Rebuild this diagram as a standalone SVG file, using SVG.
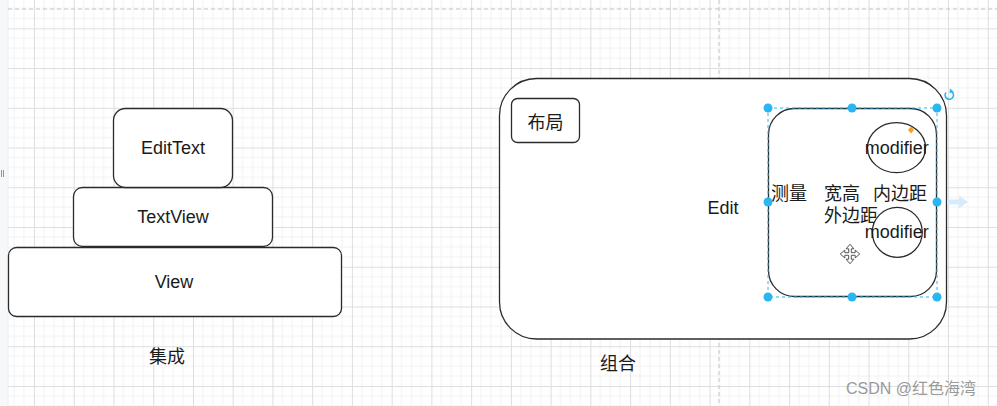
<svg xmlns="http://www.w3.org/2000/svg" width="997" height="406" viewBox="0 0 997 406">
<style>
.shape{fill:#ffffff;stroke:#2b2b2b;stroke-width:1.3}
.lbl{font-family:"Liberation Sans","Noto Sans CJK SC",sans-serif;font-size:18px;fill:#1a1a1a;text-anchor:middle;dominant-baseline:central}
.cjk{font-family:"Noto Sans CJK SC","Liberation Sans",sans-serif;font-size:18px;fill:#1a1a1a;dominant-baseline:central}
.sel{fill:none;stroke:#29b6f2;stroke-width:1;stroke-dasharray:3 3}
.handle{fill:#29b6f2}
.pb{stroke:#c4c4c4;stroke-width:1;stroke-dasharray:4 3;fill:none}
</style>
<defs>
<pattern id="grid" patternUnits="userSpaceOnUse" x="34" y="28.3" width="39.74" height="39.74">
<path d="M9.935 0V39.74M19.87 0V39.74M29.8 0V39.74M0 9.935H39.74M0 19.87H39.74M0 29.8H39.74" stroke="#f2f2f2" stroke-width="1" fill="none"/>
<path d="M0.5 0V39.74M0 0.5H39.74" stroke="#dedede" stroke-width="1" fill="none"/>
</pattern>
</defs>
<g id="background">
<rect x="0" y="0" width="997" height="406" fill="#ffffff"/>
<rect x="8" y="0" width="989" height="406" fill="url(#grid)"/>
<rect x="0" y="0" width="8" height="406" fill="#f7f8fa"/>
<line x1="8" y1="0" x2="8" y2="406" stroke="#eceef2" stroke-width="1"/>
<path d="M1.5 170V177M3.5 170V177" stroke="#777" stroke-width="0.8"/>
<line class="pb" x1="8" y1="9" x2="997" y2="9"/>
<line class="pb" x1="719" y1="0" x2="719" y2="406"/>
</g>
<g id="connectors"></g>
<g id="node-view">
<rect class="shape" x="8.5" y="247.5" width="333" height="69" rx="8"/>
<text class="lbl" x="174" y="282">View</text>
</g>
<g id="node-textview">
<rect class="shape" x="73.5" y="187.5" width="199" height="59" rx="9"/>
<text class="lbl" x="173" y="216.5">TextView</text>
</g>
<g id="node-edittext">
<rect class="shape" x="113.5" y="108.5" width="119" height="79" rx="12"/>
<text class="lbl" x="173" y="148">EditText</text>
</g>
<g id="label-jicheng">
<text class="cjk" x="167" y="355" text-anchor="middle">集成</text>
</g>
<g id="node-zuhe">
<rect class="shape" x="499.5" y="78.5" width="447" height="260.5" rx="37" stroke-width="1.5"/>
</g>
<g id="node-buju">
<rect class="shape" x="511.5" y="98.5" width="68" height="44" rx="6"/>
<text class="cjk" x="545.5" y="121" text-anchor="middle">布局</text>
</g>
<g id="label-edit">
<text class="lbl" x="723" y="208">Edit</text>
</g>
<g id="node-inner">
<rect class="shape" x="768.5" y="108.5" width="168" height="188" rx="26"/>
<text class="cjk"><tspan x="771" y="191.5">测量</tspan><tspan x="824" y="191.5">宽高</tspan><tspan x="873" y="191.5">内边距</tspan><tspan x="824" y="213.5">外边距</tspan></text>
</g>
<g id="node-modifier1">
<ellipse class="shape" cx="896.5" cy="147.7" rx="29" ry="25"/>
<text class="lbl" x="896.7" y="148.3">modifier</text>
</g>
<g id="node-modifier2">
<ellipse class="shape" cx="897.3" cy="232.3" rx="25" ry="25"/>
<text class="lbl" x="896.7" y="232">modifier</text>
</g>
<g id="label-zuhe">
<text class="cjk" x="618" y="362" text-anchor="middle">组合</text>
</g>
<g id="selection">
<rect class="sel" x="768" y="108" width="169" height="189"/>
<circle class="handle" cx="768" cy="108" r="4.5"/>
<circle class="handle" cx="852" cy="108" r="4.5"/>
<circle class="handle" cx="937" cy="108" r="4.5"/>
<circle class="handle" cx="768" cy="202" r="4.5"/>
<circle class="handle" cx="937" cy="202" r="4.5"/>
<circle class="handle" cx="768" cy="297" r="4.5"/>
<circle class="handle" cx="852" cy="297" r="4.5"/>
<circle class="handle" cx="937" cy="297" r="4.5"/>
<path d="M911 126.5L914 130L911 133.5L908 130Z" fill="#f7a21b"/>
<path d="M946 92.5A4.2 4.2 0 1 0 951.5 91.5" fill="none" stroke="#29b6f2" stroke-width="1.6"/>
<path d="M950 88.5L953.5 91.5L949.5 93.5Z" fill="#29b6f2"/>
<path d="M947 199.5H959V195.5L968 202L959 208.5V204.5H947Z" fill="#d6ebfb"/>
<path transform="translate(850 254) scale(1.3) translate(-850 -253.5)" d="M850 246L853 249.5H851V252.5H854V250.5L857.5 253.5L854 256.5V254.5H851V257.5H853L850 261L847 257.5H849V254.5H846V256.5L842.5 253.5L846 250.5V252.5H849V249.5H847Z" fill="#ffffff" stroke="#444" stroke-width="0.7"/>
</g>
<g id="watermark">
<text x="846" y="388" font-family="Liberation Sans,Noto Sans CJK SC,sans-serif" font-size="16" fill="#9a9a9a" dominant-baseline="central">CSDN @红色海湾</text>
</g>
</svg>
